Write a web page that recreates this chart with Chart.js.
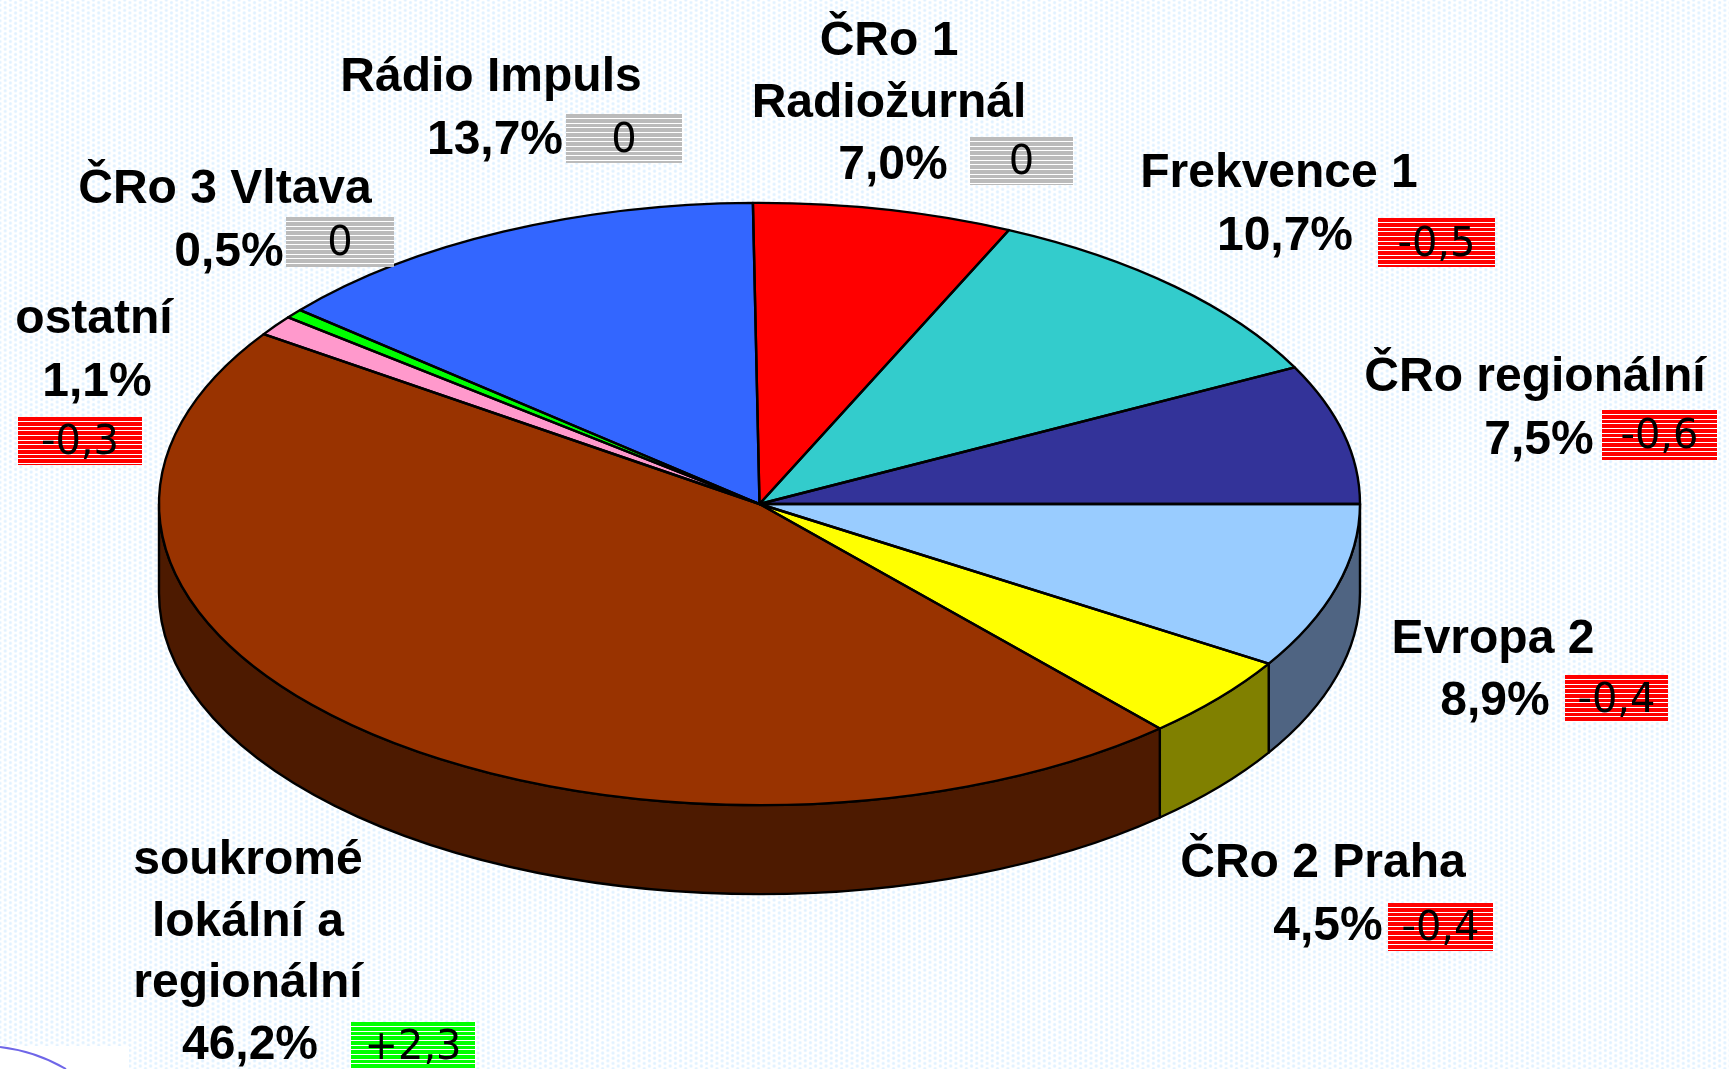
<!DOCTYPE html>
<html lang="cs">
<head>
<meta charset="utf-8">
<title>Podíl rozhlasových stanic</title>
<script src="https://cdn.jsdelivr.net/npm/chart.js@4"></script>
<style>
html,body{margin:0;padding:0;width:1729px;height:1069px;overflow:hidden;background-color:#fff;
background-image:radial-gradient(circle,#dceeff 0,#e6f4ff 1.2px,transparent 2.1px),radial-gradient(circle,#dceeff 0,#e6f4ff 1.2px,transparent 2.1px);
background-size:10.4px 5.2px,10.4px 5.2px;background-position:0 0,5.2px 2.6px;}
canvas{display:block;position:absolute;left:0;top:0}
</style>
</head>
<body>
<canvas id="c" width="1729" height="1069"></canvas>
<script>
// Data, starting at 3 o'clock and going clockwise
const categories = [
  ['Evropa 2'],
  ['ČRo 2 Praha'],
  ['soukromé', 'lokální a', 'regionální'],
  ['ostatní'],
  ['ČRo 3 Vltava'],
  ['Rádio Impuls'],
  ['ČRo 1', 'Radiožurnál'],
  ['Frekvence 1'],
  ['ČRo regionální']
];
const shares = [8.9, 4.5, 46.2, 1.1, 0.5, 13.7, 7.0, 10.7, 7.5];
const changes = [-0.4, -0.4, 2.3, -0.3, 0, 0, 0, -0.5, -0.6];

// Styles
const topColors = ['#99CCFF', '#FFFF00', '#993300', '#FF99CC', '#00FF00', '#3366FF', '#FF0000', '#33CCCC', '#333399'];
const sideColors = ['#4F6482', '#808000', '#4D1A00', '#804D66', '#008000', '#1A3380', '#800000', '#1A6666', '#1A1A4D'];
const yScale = 0.5015;
const depth = 89;

// Layout: title line centres x, first line centre y; percent centre; badge box [x0,y0,x1,y1]
const titleX = [1493, 1323, 248, 94, 225, 491, 889, 1279, 1535];
const titleY = [640, 864, 861, 320, 190, 78, 42, 174, 378];
const percentX = [1495, 1328, 250, 97, 229, 495, 893, 1285, 1539];
const percentY = [702, 927, 1046, 383, 253, 141, 166, 237, 441];
const badgeBoxes = [
  [1565, 675, 1668, 722], [1388, 903, 1493, 951], [351, 1022, 475, 1069],
  [18, 417, 142, 465], [286, 217, 394, 267], [566, 114, 682, 163],
  [970, 137, 1073, 185], [1378, 218, 1495, 267], [1602, 410, 1717, 460]
];

const fmtShare = v => v.toFixed(1).replace('.', ',') + '%';
const fmtChange = v => v === 0 ? '0' : (v > 0 ? '+' : '') + v.toFixed(1).replace('.', ',');
const badgeColor = v => v === 0 ? '#BBBBBB' : (v > 0 ? '#00FF00' : '#FF0000');

const pie3d = {
  id: 'pie3d',
  beforeDatasetsDraw(chart) {
    const ctx = chart.ctx;
    const arcs = chart.getDatasetMeta(0).data;
    // wall of the disc: only the front half shows
    arcs.forEach((a, i) => {
      const s = Math.max(a.startAngle, 0), e = Math.min(a.endAngle, Math.PI);
      if (e <= s) return;
      const rx = a.outerRadius, ry = rx * yScale;
      ctx.save();
      ctx.beginPath();
      ctx.ellipse(a.x, a.y, rx, ry, 0, s, e);
      ctx.lineTo(a.x + rx * Math.cos(e), a.y + ry * Math.sin(e) + depth);
      ctx.ellipse(a.x, a.y + depth, rx, ry, 0, e, s, true);
      ctx.closePath();
      ctx.fillStyle = sideColors[i];
      ctx.fill();
      ctx.lineWidth = 2.4;
      ctx.strokeStyle = '#000';
      ctx.lineJoin = 'round';
      ctx.stroke();
      ctx.restore();
    });
    // flatten the library's arcs into the disc's top face
    const c = arcs[0];
    ctx.save();
    ctx.translate(c.x, c.y);
    ctx.scale(1, yScale);
    ctx.translate(-c.x, -c.y);
  },
  afterDatasetsDraw(chart) {
    const ctx = chart.ctx;
    ctx.restore();
    const arcs = chart.getDatasetMeta(0).data;
    arcs.forEach(a => {
      const rx = a.outerRadius, ry = rx * yScale;
      ctx.save();
      ctx.beginPath();
      ctx.moveTo(a.x, a.y);
      ctx.ellipse(a.x, a.y, rx, ry, 0, a.startAngle, a.endAngle);
      ctx.closePath();
      ctx.lineWidth = 2.4;
      ctx.strokeStyle = '#000';
      ctx.lineJoin = 'round';
      ctx.stroke();
      ctx.restore();
    });
  },
  afterDraw(chart) {
    const ctx = chart.ctx;
    ctx.save();
    // white corner remnant with a curve
    ctx.fillStyle = '#fff';
    ctx.fillRect(0, 1046, 129, 23);
    ctx.beginPath();
    ctx.moveTo(0, 1047);
    ctx.quadraticCurveTo(35, 1051, 66, 1069);
    ctx.strokeStyle = '#6F66E8';
    ctx.lineWidth = 2;
    ctx.stroke();

    ctx.textAlign = 'center';
    ctx.textBaseline = 'middle';
    categories.forEach((lines, i) => {
      ctx.fillStyle = '#000';
      ctx.font = 'bold 48px "Liberation Sans", Arial, sans-serif';
      lines.forEach((t, j) => ctx.fillText(t, titleX[i], titleY[i] + j * 61.5));
      ctx.fillText(fmtShare(shares[i]), percentX[i], percentY[i]);

      const [x0, y0, x1, y1] = badgeBoxes[i];
      ctx.fillStyle = badgeColor(changes[i]);
      ctx.fillRect(x0, y0, x1 - x0, y1 - y0);
      ctx.fillStyle = '#fff';
      for (let y = y0 + 4; y < y1; y += 4.67) ctx.fillRect(x0, Math.round(y), x1 - x0, 1);
      ctx.fillStyle = '#000';
      ctx.font = '40px "DejaVu Sans", sans-serif';
      ctx.fillText(fmtChange(changes[i]), (x0 + x1) / 2, (y0 + y1) / 2 + 3);
    });
    ctx.restore();
  }
};

new Chart(document.getElementById('c'), {
  type: 'pie',
  data: {
    labels: categories.map(l => l.join(' ')),
    datasets: [{
      data: shares,
      backgroundColor: topColors,
      borderWidth: 0,
      clip: false
    }]
  },
  options: {
    responsive: false,
    animation: false,
    events: [],
    rotation: 90,
    radius: 600.5,
    layout: { padding: { left: 0, right: 210, top: 0, bottom: 61 } },
    plugins: { legend: { display: false }, tooltip: { enabled: false }, title: { display: false } }
  },
  plugins: [pie3d]
});
</script>
</body>
</html>
